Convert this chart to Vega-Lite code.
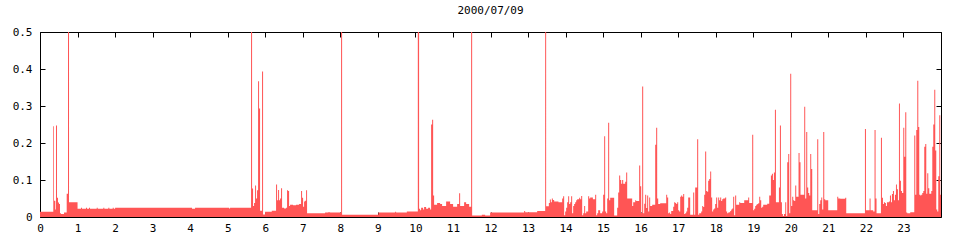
{
  "$schema": "https://vega.github.io/schema/vega-lite/v6.json",
  "autosize": "none",
  "width": 901,
  "height": 185,
  "padding": {"left": 40, "top": 32, "right": 19, "bottom": 23},
  "background": "white",
  "title": {"text": "2000/07/09", "font": "DejaVu Sans Mono", "fontSize": 11, "fontWeight": "normal", "color": "black", "anchor": "middle", "offset": 10},
  "config": {
    "view": {"stroke": "black", "strokeWidth": 1},
    "axis": {"labelFont": "DejaVu Sans Mono", "labelFontSize": 11, "labelColor": "black", "tickColor": "black", "domain": false, "grid": false, "title": null, "tickSize": -5}
  },
  "data": {"values": [
    {"t":0,"v":0.014},{"t":0.354,"v":0.245},{"t":0.373,"v":0.044},{"t":0.408,"v":0.02},{"t":0.426,"v":0.247},{"t":0.453,"v":0.052},{"t":0.48,"v":0.039},{"t":0.506,"v":0.035},{"t":0.533,"v":0.01},{"t":0.56,"v":0.008},{"t":0.639,"v":0.012},{"t":0.711,"v":0.063},{"t":0.746,"v":0.5},{"t":0.773,"v":0.04},
    {"t":1.0,"v":0.022},{"t":1.092,"v":0.025},{"t":1.119,"v":0.022},{"t":1.226,"v":0.025},{"t":1.252,"v":0.022},{"t":1.306,"v":0.025},{"t":1.332,"v":0.022},{"t":1.511,"v":0.025},{"t":1.537,"v":0.022},{"t":1.687,"v":0.025},{"t":1.713,"v":0.022},{"t":1.82,"v":0.025},{"t":1.847,"v":0.022},{"t":1.937,"v":0.025},{"t":1.964,"v":0.022},{"t":2.0,"v":0.025},{"t":4.05,"v":0.022},{"t":4.13,"v":0.025},{"t":5.036,"v":0.023},{"t":5.063,"v":0.025},
    {"t":5.622,"v":0.5},{"t":5.649,"v":0.077},{"t":5.675,"v":0.03},{"t":5.702,"v":0.038},{"t":5.729,"v":0.085},{"t":5.755,"v":0.05},{"t":5.782,"v":0.072},{"t":5.809,"v":0.367},{"t":5.835,"v":0.293},{"t":5.862,"v":0.017},{"t":5.915,"v":0.393},{"t":5.942,"v":0.007},{"t":5.995,"v":0.014},{"t":6.174,"v":0.017},{"t":6.288,"v":0.088},{"t":6.315,"v":0.045},{"t":6.342,"v":0.073},{"t":6.368,"v":0.045},{"t":6.395,"v":0.05},{"t":6.421,"v":0.078},{"t":6.448,"v":0.025},{"t":6.501,"v":0.023},{"t":6.555,"v":0.025},{"t":6.581,"v":0.072},{"t":6.608,"v":0.07},{"t":6.635,"v":0.03},{"t":6.661,"v":0.033},{"t":6.741,"v":0.032},{"t":6.821,"v":0.033},{"t":6.901,"v":0.035},{"t":6.954,"v":0.07},{"t":6.981,"v":0.052},{"t":7.008,"v":0.028},{"t":7.034,"v":0.042},{"t":7.061,"v":0.044},{"t":7.088,"v":0.072},{"t":7.114,"v":0.01},{"t":7.594,"v":0.012},{"t":7.674,"v":0.013},{"t":7.727,"v":0.012},
    {"t":8.02,"v":0.5},{"t":8.047,"v":0.006},{"t":9.014,"v":0.012},{"t":9.459,"v":0.014},{"t":9.486,"v":0.012},{"t":9.771,"v":0.015},
    {"t":10.064,"v":0.5},{"t":10.098,"v":0.022},{"t":10.125,"v":0.018},{"t":10.152,"v":0.025},{"t":10.205,"v":0.02},{"t":10.232,"v":0.027},{"t":10.285,"v":0.022},{"t":10.338,"v":0.025},{"t":10.392,"v":0.02},{"t":10.418,"v":0.25},{"t":10.445,"v":0.263},{"t":10.472,"v":0.058},{"t":10.498,"v":0.033},{"t":10.578,"v":0.038},{"t":10.658,"v":0.035},{"t":10.711,"v":0.03},{"t":10.818,"v":0.042},{"t":10.924,"v":0.035},{"t":11.004,"v":0.028},{"t":11.111,"v":0.035},{"t":11.164,"v":0.064},{"t":11.191,"v":0.03},{"t":11.297,"v":0.04},{"t":11.351,"v":0.035},{"t":11.431,"v":0.028},
    {"t":11.484,"v":0.5},{"t":11.511,"v":0.004},{"t":11.769,"v":0.006},{"t":11.857,"v":0.004},{"t":11.99,"v":0.012},{"t":12.896,"v":0.016},{"t":12.923,"v":0.013},{"t":13.243,"v":0.016},
    {"t":13.456,"v":0.5},{"t":13.482,"v":0.029},{"t":13.554,"v":0.038},{"t":13.581,"v":0.047},{"t":13.608,"v":0.04},{"t":13.634,"v":0.05},{"t":13.661,"v":0.046},{"t":13.696,"v":0.042},{"t":13.81,"v":0.04},{"t":13.909,"v":0.05},{"t":13.935,"v":0.056},{"t":13.962,"v":0.005},{"t":13.989,"v":0.015},{"t":14.015,"v":0.025},{"t":14.042,"v":0.04},{"t":14.069,"v":0.056},{"t":14.095,"v":0.035},{"t":14.122,"v":0.04},{"t":14.148,"v":0.056},{"t":14.175,"v":0.01},{"t":14.202,"v":0.03},{"t":14.228,"v":0.035},{"t":14.255,"v":0.04},{"t":14.282,"v":0.045},{"t":14.308,"v":0.048},{"t":14.362,"v":0.052},{"t":14.388,"v":0.048},{"t":14.415,"v":0.057},{"t":14.442,"v":0.005},{"t":14.468,"v":0.01},{"t":14.495,"v":0.03},{"t":14.521,"v":0.01},{"t":14.548,"v":0.015},{"t":14.601,"v":0.056},{"t":14.628,"v":0.05},{"t":14.655,"v":0.053},{"t":14.727,"v":0.048},{"t":14.788,"v":0.06},{"t":14.815,"v":0.005},{"t":14.841,"v":0.01},{"t":14.868,"v":0.018},{"t":14.921,"v":0.01},{"t":14.974,"v":0.015},{"t":15.001,"v":0.06},{"t":15.028,"v":0.218},{"t":15.054,"v":0.015},{"t":15.081,"v":0.01},{"t":15.108,"v":0.05},{"t":15.134,"v":0.255},{"t":15.161,"v":0.045},{"t":15.188,"v":0.052},{"t":15.294,"v":0.004},{"t":15.374,"v":0.025},{"t":15.401,"v":0.066},{"t":15.427,"v":0.112},{"t":15.454,"v":0.1},{"t":15.481,"v":0.09},{"t":15.507,"v":0.1},{"t":15.534,"v":0.09},{"t":15.587,"v":0.095},{"t":15.614,"v":0.12},{"t":15.641,"v":0.05},{"t":15.774,"v":0.03},{"t":15.801,"v":0.04},{"t":15.854,"v":0.045},{"t":15.88,"v":0.043},{"t":15.96,"v":0.139},{"t":15.987,"v":0.083},
    {"t":16.014,"v":0.011},{"t":16.04,"v":0.353},{"t":16.067,"v":0.01},{"t":16.094,"v":0.036},{"t":16.12,"v":0.06},{"t":16.147,"v":0.024},{"t":16.173,"v":0.058},{"t":16.2,"v":0.015},{"t":16.227,"v":0.053},{"t":16.253,"v":0.03},{"t":16.307,"v":0.033},{"t":16.387,"v":0.195},{"t":16.413,"v":0.241},{"t":16.44,"v":0.05},{"t":16.467,"v":0.035},{"t":16.52,"v":0.037},{"t":16.68,"v":0.06},{"t":16.706,"v":0.053},{"t":16.733,"v":0.01},{"t":16.76,"v":0.012},{"t":16.786,"v":0.008},{"t":16.813,"v":0.016},{"t":16.866,"v":0.028},{"t":16.893,"v":0.04},{"t":16.92,"v":0.038},{"t":16.946,"v":0.035},{"t":16.973,"v":0.04},{"t":17.0,"v":0.018},{"t":17.026,"v":0.015},{"t":17.053,"v":0.055},{"t":17.079,"v":0.058},{"t":17.106,"v":0.055},{"t":17.133,"v":0.062},{"t":17.159,"v":0.008},{"t":17.186,"v":0.01},{"t":17.213,"v":0.015},{"t":17.239,"v":0.025},{"t":17.266,"v":0.053},{"t":17.319,"v":0.006},{"t":17.399,"v":0.066},{"t":17.426,"v":0.006},{"t":17.452,"v":0.08},{"t":17.505,"v":0.21},{"t":17.532,"v":0.006},{"t":17.559,"v":0.01},{"t":17.612,"v":0.015},{"t":17.639,"v":0.03},{"t":17.665,"v":0.027},{"t":17.692,"v":0.06},{"t":17.718,"v":0.177},{"t":17.745,"v":0.07},{"t":17.772,"v":0.068},{"t":17.798,"v":0.098},{"t":17.825,"v":0.103},{"t":17.852,"v":0.123},{"t":17.878,"v":0.053},{"t":17.905,"v":0.015},{"t":17.931,"v":0.02},{"t":17.958,"v":0.023},{"t":17.985,"v":0.035},
    {"t":18.011,"v":0.053},{"t":18.038,"v":0.025},{"t":18.065,"v":0.053},{"t":18.091,"v":0.045},{"t":18.118,"v":0.053},{"t":18.145,"v":0.043},{"t":18.171,"v":0.048},{"t":18.198,"v":0.05},{"t":18.251,"v":0.053},{"t":18.278,"v":0.015},{"t":18.304,"v":0.01},{"t":18.331,"v":0.012},{"t":18.358,"v":0.013},{"t":18.384,"v":0.016},{"t":18.411,"v":0.02},{"t":18.438,"v":0.023},{"t":18.464,"v":0.055},{"t":18.491,"v":0.005},{"t":18.517,"v":0.058},{"t":18.544,"v":0.033},{"t":18.624,"v":0.04},{"t":18.651,"v":0.038},{"t":18.758,"v":0.045},{"t":18.864,"v":0.053},{"t":18.891,"v":0.038},{"t":18.971,"v":0.222},{"t":18.998,"v":0.018},{"t":19.024,"v":0.022},{"t":19.051,"v":0.03},{"t":19.078,"v":0.033},{"t":19.104,"v":0.035},{"t":19.131,"v":0.037},{"t":19.158,"v":0.055},{"t":19.184,"v":0.045},{"t":19.211,"v":0.025},{"t":19.238,"v":0.028},{"t":19.264,"v":0.033},{"t":19.371,"v":0.036},{"t":19.424,"v":0.058},{"t":19.469,"v":0.112},{"t":19.496,"v":0.117},{"t":19.523,"v":0.1},{"t":19.549,"v":0.12},{"t":19.576,"v":0.29},{"t":19.603,"v":0.04},{"t":19.683,"v":0.08},{"t":19.709,"v":0.247},{"t":19.736,"v":0.04},{"t":19.763,"v":0.008},{"t":19.789,"v":0.003},{"t":19.816,"v":0.008},{"t":19.851,"v":0.04},{"t":19.877,"v":0.003},{"t":19.904,"v":0.148},{"t":19.931,"v":0.17},{"t":19.957,"v":0.01},{"t":19.984,"v":0.387},
    {"t":20.01,"v":0.03},{"t":20.037,"v":0.055},{"t":20.064,"v":0.045},{"t":20.09,"v":0.043},{"t":20.117,"v":0.085},{"t":20.144,"v":0.055},{"t":20.205,"v":0.173},{"t":20.232,"v":0.148},{"t":20.258,"v":0.06},{"t":20.357,"v":0.298},{"t":20.383,"v":0.05},{"t":20.41,"v":0.23},{"t":20.437,"v":0.08},{"t":20.463,"v":0.065},{"t":20.49,"v":0.058},{"t":20.517,"v":0.17},{"t":20.543,"v":0.13},{"t":20.57,"v":0.018},{"t":20.703,"v":0.21},{"t":20.73,"v":0.008},{"t":20.757,"v":0.035},{"t":20.783,"v":0.045},{"t":20.81,"v":0.053},{"t":20.836,"v":0.02},{"t":20.863,"v":0.23},{"t":20.89,"v":0.048},{"t":20.916,"v":0.045},{"t":20.996,"v":0.018},{"t":21.236,"v":0.055},{"t":21.263,"v":0.05},{"t":21.316,"v":0.049},{"t":21.449,"v":0.052},{"t":21.476,"v":0.01},
    {"t":21.974,"v":0.238},{"t":22.001,"v":0.018},{"t":22.097,"v":0.05},{"t":22.124,"v":0.018},{"t":22.195,"v":0.015},{"t":22.23,"v":0.235},{"t":22.257,"v":0.05},{"t":22.283,"v":0.01},{"t":22.4,"v":0.214},{"t":22.427,"v":0.052},{"t":22.454,"v":0.035},{"t":22.48,"v":0.04},{"t":22.507,"v":0.038},{"t":22.533,"v":0.03},{"t":22.56,"v":0.04},{"t":22.613,"v":0.042},{"t":22.64,"v":0.058},{"t":22.667,"v":0.04},{"t":22.693,"v":0.062},{"t":22.72,"v":0.07},{"t":22.747,"v":0.045},{"t":22.773,"v":0.06},{"t":22.8,"v":0.088},{"t":22.826,"v":0.075},{"t":22.853,"v":0.045},{"t":22.88,"v":0.307},{"t":22.906,"v":0.098},{"t":22.933,"v":0.07},{"t":22.96,"v":0.065},{"t":22.995,"v":0.241},{"t":23.021,"v":0.163},{"t":23.048,"v":0.283},{"t":23.075,"v":0.012},{"t":23.101,"v":0.01},{"t":23.181,"v":0.013},{"t":23.288,"v":0.22},{"t":23.315,"v":0.06},{"t":23.341,"v":0.235},{"t":23.368,"v":0.368},{"t":23.395,"v":0.243},{"t":23.421,"v":0.06},{"t":23.448,"v":0.058},{"t":23.474,"v":0.06},{"t":23.501,"v":0.065},{"t":23.528,"v":0.07},{"t":23.554,"v":0.19},{"t":23.581,"v":0.197},{"t":23.608,"v":0.063},{"t":23.634,"v":0.118},{"t":23.661,"v":0.078},{"t":23.688,"v":0.063},{"t":23.741,"v":0.07},{"t":23.768,"v":0.19},{"t":23.794,"v":0.25},{"t":23.821,"v":0.344},{"t":23.847,"v":0.18},{"t":23.874,"v":0.02},{"t":23.901,"v":0.015},{"t":23.927,"v":0.11},{"t":23.954,"v":0.275},{"t":23.981,"v":0.06},{"t":24.0,"v":0.06}
  ]},
  "layer": [
    {
      "mark": {"type": "area", "interpolate": "step-after", "color": "#ff5555", "stroke": null},
      "encoding": {
        "x": {"field": "t", "type": "quantitative", "scale": {"domain": [0, 24], "nice": false, "zero": false},
              "axis": {"orient": "bottom", "values": [0,1,2,3,4,5,6,7,8,9,10,11,12,13,14,15,16,17,18,19,20,21,22,23], "labelPadding": 10, "labelFlush": false, "format": "d"}},
        "y": {"field": "v", "type": "quantitative", "scale": {"domain": [0, 0.5], "nice": false},
              "axis": {"orient": "left", "values": [0, 0.1, 0.2, 0.3, 0.4, 0.5], "format": ".1~f", "labelPadding": 13, "labelFlush": false}}
      }
    },
    {
      "mark": {"type": "area", "interpolate": "step-after", "opacity": 0},
      "encoding": {
        "x": {"field": "t", "type": "quantitative", "axis": {"orient": "top", "values": [0,1,2,3,4,5,6,7,8,9,10,11,12,13,14,15,16,17,18,19,20,21,22,23,24], "labels": false}},
        "y": {"field": "v", "type": "quantitative", "axis": {"orient": "right", "values": [0, 0.1, 0.2, 0.3, 0.4, 0.5], "labels": false}}
      }
    }
  ],
  "resolve": {"axis": {"x": "independent", "y": "independent"}}
}
